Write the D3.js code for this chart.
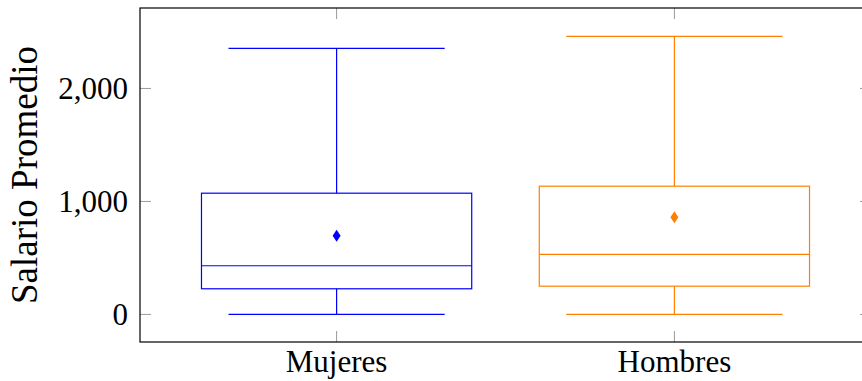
<!DOCTYPE html>
<html>
<head>
<meta charset="utf-8">
<script src="https://cdn.jsdelivr.net/npm/d3@7"></script>
<style>
  html, body { margin: 0; padding: 0; background: #fff; }
  svg { display: block; }
  text { font-family: "Liberation Serif", serif; fill: #000; }
</style>
</head>
<body>
<svg id="chart" width="862" height="381"></svg>
<script>
// Salary distribution by sex
const categories = ["Mujeres", "Hombres"];
const positions = [1, 2];
const colors = ["#0000ff", "#ff8000"];
const lowerWhisker = [0, 0];
const lowerQuartile = [227, 250];
const median = [431, 531];
const upperQuartile = [1073, 1135];
const upperWhisker = [2354, 2460];
const mean = [696, 861];
const yTicks = [0, 1000, 2000];

(function () {
const svg = d3.select("#chart");
const plotLeft = 140, plotRight = 871, plotTop = 8, plotBottom = 342;

const x = d3.scaleLinear().domain([0.418, 2.582]).range([plotLeft, plotRight]);
const y = d3.scaleLinear().domain([-244, 2712]).range([plotBottom, plotTop]);

const boxHalf = 0.4, capHalf = 0.32;
const fmt = d3.format(",");

// tick marks (inward, on all four sides)
const tickLen = 11;
const tickColor = "#9a9a9a";
const g = svg.append("g");
yTicks.forEach(v => {
  g.append("line").attr("x1", plotLeft).attr("x2", plotLeft + tickLen)
    .attr("y1", y(v)).attr("y2", y(v)).attr("stroke", tickColor).attr("stroke-width", 1);
  g.append("line").attr("x1", plotRight - tickLen).attr("x2", plotRight)
    .attr("y1", y(v)).attr("y2", y(v)).attr("stroke", tickColor).attr("stroke-width", 1);
  g.append("text").attr("x", 128).attr("y", y(v)).attr("dy", "0.33em")
    .attr("text-anchor", "end").attr("font-size", 31).text(fmt(v));
});
positions.forEach((p, i) => {
  g.append("line").attr("x1", x(p)).attr("x2", x(p))
    .attr("y1", plotTop).attr("y2", plotTop + tickLen).attr("stroke", tickColor).attr("stroke-width", 1);
  g.append("line").attr("x1", x(p)).attr("x2", x(p))
    .attr("y1", plotBottom - tickLen).attr("y2", plotBottom).attr("stroke", tickColor).attr("stroke-width", 1);
  g.append("text").attr("x", x(p)).attr("y", 372).attr("text-anchor", "middle")
    .attr("font-size", 31).text(categories[i]);
});

// boxes
positions.forEach((p, i) => {
  const c = colors[i];
  const b = svg.append("g").attr("stroke", c).attr("stroke-width", 1.2).attr("fill", "none");
  b.append("line").attr("x1", x(p)).attr("x2", x(p))
    .attr("y1", y(upperWhisker[i])).attr("y2", y(upperQuartile[i]));
  b.append("line").attr("x1", x(p)).attr("x2", x(p))
    .attr("y1", y(lowerQuartile[i])).attr("y2", y(lowerWhisker[i]));
  b.append("line").attr("x1", x(p - capHalf)).attr("x2", x(p + capHalf))
    .attr("y1", y(upperWhisker[i])).attr("y2", y(upperWhisker[i]));
  b.append("line").attr("x1", x(p - capHalf)).attr("x2", x(p + capHalf))
    .attr("y1", y(lowerWhisker[i])).attr("y2", y(lowerWhisker[i]));
  b.append("rect").attr("x", x(p - boxHalf)).attr("width", x(p + boxHalf) - x(p - boxHalf))
    .attr("y", y(upperQuartile[i])).attr("height", y(lowerQuartile[i]) - y(upperQuartile[i]));
  b.append("line").attr("x1", x(p - boxHalf)).attr("x2", x(p + boxHalf))
    .attr("y1", y(median[i])).attr("y2", y(median[i]));
  // mean marker (diamond)
  const cx = x(p), cy = y(mean[i]);
  svg.append("path")
    .attr("d", `M${cx},${cy - 6}L${cx + 4},${cy}L${cx},${cy + 6}L${cx - 4},${cy}Z`)
    .attr("fill", c).attr("stroke", "none");
});

// frame
svg.append("rect").attr("x", plotLeft).attr("y", plotTop)
  .attr("width", plotRight - plotLeft).attr("height", plotBottom - plotTop)
  .attr("fill", "none").attr("stroke", "#000").attr("stroke-width", 1.2);

// y-axis label
svg.append("text").attr("transform", `translate(37,${(plotTop + plotBottom) / 2}) rotate(-90)`)
  .attr("text-anchor", "middle").attr("font-size", 37).text("Salario Promedio");
})();
</script>
</body>
</html>
